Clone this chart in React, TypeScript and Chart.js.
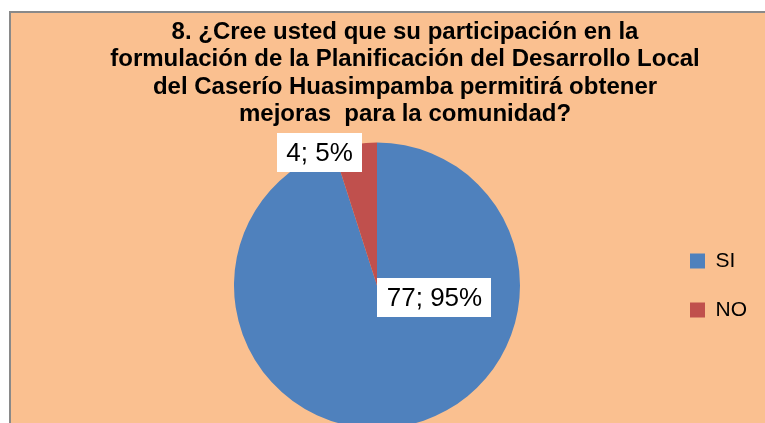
import { useEffect, useRef } from "react";
import { Chart, registerables } from "chart.js";

Chart.register(...registerables);

const categories = ["SI", "NO"];
const counts = [77, 4];
const sliceColors = ["#4F81BD", "#C0504D"];
const titleLines = [
  "8. ¿Cree usted que su participación en la",
  "formulación de la Planificación del Desarrollo Local",
  "del Caserío Huasimpamba permitirá obtener",
  "mejoras  para la comunidad?",
];

const titlePlugin = {
  id: "topTitle",
  afterDraw(chart: any, _args: any, opts: any) {
    const ctx = chart.ctx;
    ctx.save();
    ctx.font = opts.font;
    ctx.fillStyle = opts.color;
    ctx.textAlign = "center";
    ctx.textBaseline = "alphabetic";
    opts.lines.forEach((line: string, i: number) => {
      ctx.fillText(line, chart.width / 2, opts.firstBaseline + i * opts.lineHeight);
    });
    ctx.restore();
  },
};

const boxedLabelPlugin = {
  id: "boxedLabels",
  afterDatasetsDraw(chart: any, _args: any, opts: any) {
    const ctx = chart.ctx;
    const meta = chart.getDatasetMeta(0);
    const values = chart.data.datasets[0].data as number[];
    const total = values.reduce((a, b) => a + b, 0);
    ctx.save();
    ctx.font = opts.font;
    ctx.textAlign = "center";
    ctx.textBaseline = "middle";
    meta.data.forEach((arc: any, i: number) => {
      const { x, y, outerRadius } = arc.getProps(["x", "y", "outerRadius"], true);
      const [fx, fy] = opts.offsets[i];
      const cx = x + fx * outerRadius;
      const cy = y + fy * outerRadius;
      const text = `${values[i]}; ${Math.round((values[i] / total) * 100)}%`;
      const w = ctx.measureText(text).width + 2 * opts.padX;
      const h = opts.boxHeight;
      ctx.fillStyle = "#FFFFFF";
      ctx.fillRect(Math.round(cx - w / 2), Math.round(cy - h / 2), Math.round(w), h);
      ctx.fillStyle = "#000000";
      ctx.fillText(text, cx, cy + 1);
    });
    ctx.restore();
  },
};

export default function App() {
  const canvasRef = useRef<HTMLCanvasElement | null>(null);

  useEffect(() => {
    if (!canvasRef.current) return;
    const chart = new Chart(canvasRef.current, {
      type: "pie",
      data: {
        labels: categories,
        datasets: [
          {
            data: counts,
            backgroundColor: sliceColors,
            borderWidth: 0,
          },
        ],
      },
      options: {
        responsive: false,
        devicePixelRatio: 1,
        animation: false,
        layout: {
          padding: { top: 129.5, left: 81, right: 42, bottom: 14.5 },
        },
        plugins: {
          title: { display: false },
          tooltip: { enabled: false },
          legend: {
            position: "right",
            labels: {
              boxWidth: 15,
              boxHeight: 15,
              padding: 28,
              color: "#000000",
              font: { family: "'Liberation Sans', Arial, sans-serif", size: 21 },
            },
          },
          topTitle: {
            lines: titleLines,
            font: "bold 24px 'Liberation Sans', Arial, sans-serif",
            color: "#000000",
            firstBaseline: 26,
            lineHeight: 27.3,
          },
          boxedLabels: {
            font: "26px 'Liberation Sans', Arial, sans-serif",
            offsets: [
              [0.402, 0.084],
              [-0.402, -0.93],
            ],
            padX: 9.5,
            boxHeight: 39,
          },
        } as any,
      },
      plugins: [titlePlugin, boxedLabelPlugin],
    });
    return () => chart.destroy();
  }, []);

  return (
    <div
      style={{
        position: "fixed",
        left: 0,
        top: 0,
        width: 765,
        height: 423,
        overflow: "hidden",
        background: "#FFFFFF",
      }}
    >
      <div
        style={{
          position: "absolute",
          left: 9,
          top: 11,
          width: 790,
          height: 440,
          border: "2px solid #898989",
          background: "#FAC090",
        }}
      >
        <canvas ref={canvasRef} width={788} height={430} style={{ display: "block" }} />
      </div>
    </div>
  );
}
